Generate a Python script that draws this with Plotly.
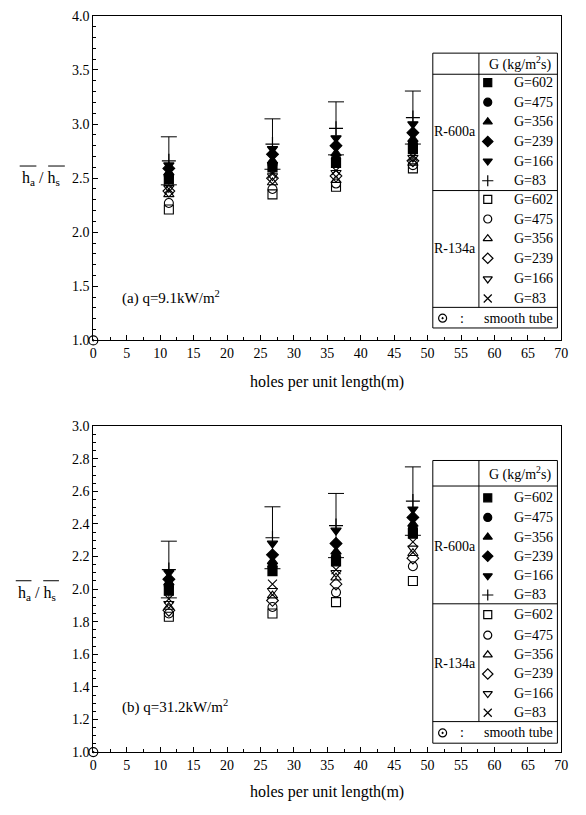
import plotly.graph_objects as go

W, H = 586, 815
def px(x): return x / W
def py(y): return 1 - y / H

# ---------------- data ----------------
holes = [11.3, 26.8, 36.3, 47.8]
g_labels = ["G=602", "G=475", "G=356", "G=239", "G=166", "G=83"]

# panel (a) q=9.1 kW/m2
a_r600a_g602 = [2.49, 2.60, 2.64, 2.77]
a_r600a_g475 = [2.52, 2.63, 2.68, 2.82]
a_r600a_g356 = [2.55, 2.66, 2.73, 2.86]
a_r600a_g239 = [2.59, 2.72, 2.80, 2.92]
a_r600a_g166 = [2.62, 2.77, 2.87, 3.00]
a_r600a_g83 = [2.66, 2.815, 2.96, 3.06]
a_g83_err = [0.222, 0.233, 0.245, 0.245]
a_r134a_g602 = [2.21, 2.35, 2.42, 2.59]
a_r134a_g475 = [2.27, 2.40, 2.45, 2.62]
a_r134a_g356 = [2.35, 2.46, 2.48, 2.64]
a_r134a_g239 = [2.38, 2.50, 2.52, 2.66]
a_r134a_g166 = [2.41, 2.52, 2.55, 2.69]
a_r134a_g83 = [2.40, 2.54, 2.57, 2.70]

# panel (b) q=31.2 kW/m2
b_r600a_g602 = [1.99, 2.11, 2.17, 2.34]
b_r600a_g475 = [2.02, 2.14, 2.20, 2.37]
b_r600a_g356 = [2.04, 2.17, 2.23, 2.40]
b_r600a_g239 = [2.06, 2.21, 2.28, 2.44]
b_r600a_g166 = [2.10, 2.28, 2.36, 2.49]
b_r600a_g83 = [2.12, 2.315, 2.39, 2.54]
b_g83_err = [0.174, 0.19, 0.197, 0.21]
b_r134a_g602 = [1.83, 1.85, 1.92, 2.05]
b_r134a_g475 = [1.85, 1.89, 1.98, 2.14]
b_r134a_g356 = [1.89, 1.96, 2.07, 2.22]
b_r134a_g239 = [1.87, 1.93, 2.03, 2.19]
b_r134a_g166 = [1.91, 1.99, 2.10, 2.25]
b_r134a_g83 = [1.94, 2.03, 2.12, 2.29]

smooth_x = [0]
smooth_y = [1.0]

# ---------------- styles ----------------
sym_600 = ["square", "circle", "triangle-up", "diamond", "triangle-down", "cross-thin"]
sym_134 = ["square-open", "circle-open", "triangle-up-open", "diamond-open",
           "triangle-down-open", "x-thin"]
FONT = "Liberation Serif"

fig = go.Figure()

def add_panel(xa, ya, r600, r134, err):
    for vals, s in zip(r134, sym_134):
        fig.add_trace(go.Scatter(x=holes, y=vals, mode="markers", xaxis=xa, yaxis=ya,
                                 marker=dict(symbol=s, size=9, color="black",
                                             line=dict(width=1.1, color="black")),
                                 showlegend=False, cliponaxis=False))
    for i, (vals, s) in enumerate(zip(r600, sym_600)):
        kw = {}
        if i == 5:
            kw["error_y"] = dict(type="data", array=err, symmetric=True, color="black",
                                 thickness=1, width=8)
        fig.add_trace(go.Scatter(x=holes, y=vals, mode="markers", xaxis=xa, yaxis=ya,
                                 marker=dict(symbol=s, size=9 if i < 5 else 10, color="black",
                                             line=dict(width=1.2, color="black")),
                                 showlegend=False, cliponaxis=False, **kw))
    fig.add_trace(go.Scatter(x=smooth_x, y=smooth_y, mode="markers", xaxis=xa, yaxis=ya,
                             marker=dict(symbol="circle-open-dot", size=9, color="black",
                                         line=dict(width=1.2, color="black")),
                             showlegend=False, cliponaxis=False))

add_panel("x", "y",
          [a_r600a_g602, a_r600a_g475, a_r600a_g356, a_r600a_g239, a_r600a_g166, a_r600a_g83],
          [a_r134a_g602, a_r134a_g475, a_r134a_g356, a_r134a_g239, a_r134a_g166, a_r134a_g83],
          a_g83_err)
add_panel("x2", "y2",
          [b_r600a_g602, b_r600a_g475, b_r600a_g356, b_r600a_g239, b_r600a_g166, b_r600a_g83],
          [b_r134a_g602, b_r134a_g475, b_r134a_g356, b_r134a_g239, b_r134a_g166, b_r134a_g83],
          b_g83_err)

# ---------------- axes ----------------
tickfont = dict(family=FONT, size=14, color="black")
xcommon = dict(range=[0, 70], tick0=0, dtick=5, ticks="inside", ticklen=5, tickcolor="black",
               showline=True, linecolor="black", linewidth=1, mirror=True,
               showgrid=False, zeroline=False, tickfont=tickfont,
               minor=dict(dtick=2.5, ticks="inside", ticklen=3, tickcolor="black", showgrid=False))
ycommon = dict(ticks="inside", ticklen=5, tickcolor="black", showline=True, linecolor="black",
               linewidth=1, mirror=True, showgrid=False, zeroline=False, tickfont=tickfont,
               tickformat=".1f")

fig.update_layout(
    width=W, height=H, margin=dict(l=0, r=0, t=0, b=0),
    paper_bgcolor="white", plot_bgcolor="rgba(0,0,0,0)",
    font=dict(family=FONT, color="black"),
    xaxis=dict(domain=[px(91), px(568)], anchor="y", **xcommon),
    yaxis=dict(domain=[py(339.7), py(9)], anchor="x", range=[1, 4], tick0=1, dtick=0.5,
               minor=dict(dtick=0.1, ticks="inside", ticklen=3, tickcolor="black", showgrid=False),
               **ycommon),
    xaxis2=dict(domain=[px(91), px(568)], anchor="y2", **xcommon),
    yaxis2=dict(domain=[py(759), py(427)], anchor="x2", range=[1, 3], tick0=1, dtick=0.2,
                minor=dict(dtick=0.05, ticks="inside", ticklen=3, tickcolor="black", showgrid=False),
                **ycommon),
    xaxis3=dict(domain=[0, 1], range=[0, W], visible=False, anchor="y3", fixedrange=True),
    yaxis3=dict(domain=[0, 1], range=[H, 0], visible=False, anchor="x3", fixedrange=True),
)

shapes = []
annotations = []

def txt(x, y, s, size=14, xanchor="center"):
    annotations.append(dict(x=px(x), y=py(y), xref="paper", yref="paper", text=s,
                            showarrow=False, xanchor=xanchor, yanchor="middle",
                            font=dict(family=FONT, size=size, color="black")))

def line(x0, y0, x1, y1, w=1):
    shapes.append(dict(type="line", xref="paper", yref="paper", x0=px(x0), y0=py(y0),
                       x1=px(x1), y1=py(y1), line=dict(color="black", width=w)))

# axis titles and y labels
for ty, ly, lbl, lby in [(382, 175, "(a) q=9.1kW/m<sup>2</sup>", 296),
                         (800, 597, "(b) q=31.2kW/m<sup>2</sup>", 713)]:
    txt(329, ty, "holes per unit length(m)", size=16)
    txt(118, lby, lbl, size=15, xanchor="left")
    txt(38 if ty < 400 else 34, ly, "h<sub>a</sub> / h<sub>s</sub>", size=16)

# overlines for y-titles
line(16, 162, 33, 162); line(45, 162, 62, 162)
line(12, 584.5, 28, 584.5); line(40, 584.5, 56, 584.5)

# legend tables
leg_x, leg_y, leg_s = [], [], []
def legend_table(top, hdr_bot, grp, smooth_top, bottom, rows600, rows134, smooth_row):
    line(437, top, 564, top); line(437, bottom, 564, bottom)
    line(437, top, 437, bottom); line(564, top, 564, bottom)
    line(437, hdr_bot, 564, hdr_bot); line(437, grp, 564, grp)
    line(437, smooth_top, 564, smooth_top); line(484, top, 484, smooth_top)
    txt(526, (top + hdr_bot) / 2, "G (kg/m<sup>2</sup>s)")
    txt(460, (rows600[0] + rows600[-1]) / 2, "R-600a")
    txt(460, (rows134[0] + rows134[-1]) / 2, "R-134a")
    for yy, s, lab in zip(rows600, sym_600, g_labels):
        leg_x.append(493); leg_y.append(yy); leg_s.append(s)
        txt(518, yy, lab, xanchor="left")
    for yy, s, lab in zip(rows134, sym_134, g_labels):
        leg_x.append(493); leg_y.append(yy); leg_s.append(s)
        txt(518, yy, lab, xanchor="left")
    leg_x.append(447); leg_y.append(smooth_row); leg_s.append("circle-open-dot")
    txt(467, smooth_row, ":")
    txt(487, smooth_row, "smooth tube", xanchor="left")

legend_table(47, 68.5, 187, 306, 327,
             [77, 97, 117, 137, 157, 177], [196, 216, 236, 256, 277, 297], 317)
legend_table(462, 488, 608, 728, 750,
             [500, 520, 540, 559.5, 579.5, 599], [619, 640, 660, 679.5, 699.5, 719], 739.5)

fig.add_trace(go.Scatter(x=leg_x, y=leg_y, mode="markers", xaxis="x3", yaxis="y3",
                         marker=dict(symbol=leg_s, size=8, color="black",
                                     line=dict(width=1.2, color="black")),
                         showlegend=False, cliponaxis=False, hoverinfo="skip"))

fig.update_layout(shapes=shapes, annotations=annotations)
fig.write_html("out.html")
